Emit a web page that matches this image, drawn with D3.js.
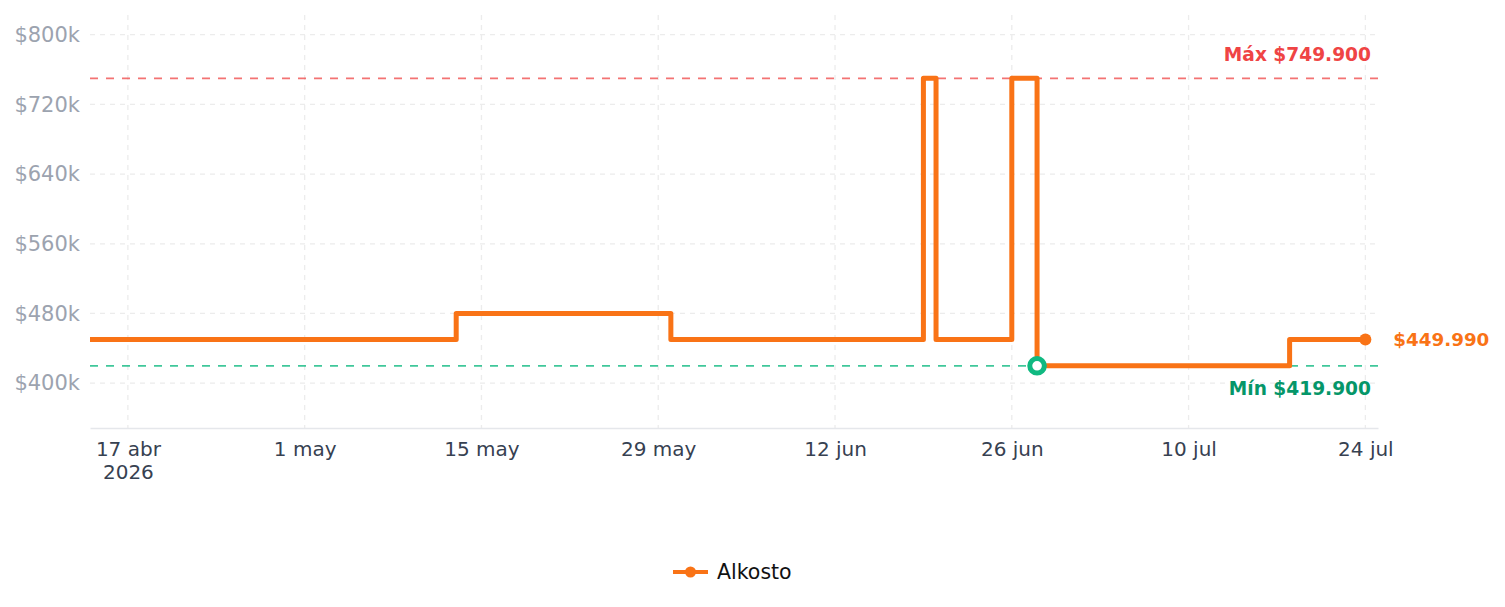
<!DOCTYPE html>
<html>
<head>
<meta charset="utf-8">
<script src="https://cdn.jsdelivr.net/npm/d3@7"></script>
<style>
  body { margin: 0; background: #fff; font-family: "DejaVu Sans", sans-serif; }
</style>
</head>
<body>
<svg id="chart" width="1505" height="607"></svg>
<script>
// price history (step after each change)
const dates  = ["2026-04-14","2026-05-13","2026-05-30","2026-06-19","2026-06-20","2026-06-26","2026-06-28","2026-07-18","2026-07-24"];
const prices = [449990, 479900, 449990, 749900, 449990, 749900, 419900, 449990, 449990];
const storeName = "Alkosto";
const xTickDates = ["2026-04-17","2026-05-01","2026-05-15","2026-05-29","2026-06-12","2026-06-26","2026-07-10","2026-07-24"];
const yTicks = [400000, 480000, 560000, 640000, 720000, 800000];
const months = ["ene","feb","mar","abr","may","jun","jul","ago","sep","oct","nov","dic"];

const parse = d3.timeParse("%Y-%m-%d");
const data = dates.map((d, i) => ({date: parse(d), price: prices[i]}));

const margin = {left: 90, right: 127, top: 15, bottom: 179};
const W = 1505, H = 607;
const svg = d3.select("#chart");

const maxP = d3.max(prices), minP = d3.min(prices);

const x = d3.scaleTime()
  .domain([parse("2026-04-14"), parse("2026-07-25")])
  .range([margin.left, W - margin.right]);
const y = d3.scaleLinear()
  .domain([minP * 0.83, maxP * 1.097])
  .range([H - margin.bottom, margin.top]);

// grid
svg.append("g").selectAll("line").data(yTicks).join("line")
  .attr("x1", margin.left).attr("x2", W - margin.right)
  .attr("y1", d => y(d)).attr("y2", d => y(d))
  .attr("stroke", "#ececec").attr("stroke-width", 1.3).attr("stroke-dasharray", "5,5");
svg.append("g").selectAll("line").data(xTickDates.map(parse)).join("line")
  .attr("x1", d => x(d)).attr("x2", d => x(d))
  .attr("y1", margin.top).attr("y2", H - margin.bottom)
  .attr("stroke", "#ececec").attr("stroke-width", 1.3).attr("stroke-dasharray", "5,5");

// y axis labels
const yAxis = d3.axisLeft(y).tickValues(yTicks).tickSize(0).tickPadding(10)
  .tickFormat(d => "$" + (d / 1000) + "k");
svg.append("g").attr("transform", `translate(${margin.left},0)`).call(yAxis)
  .call(g => g.select(".domain").remove())
  .selectAll("text").attr("font-family", "DejaVu Sans").attr("font-size", 21).attr("fill", "#9ca3af");

// x axis
const xAxis = d3.axisBottom(x).tickValues(xTickDates.map(parse)).tickSize(0).tickPadding(14)
  .tickFormat(d => d.getDate() + " " + months[d.getMonth()]);
const gx = svg.append("g").attr("transform", `translate(0,${H - margin.bottom})`).call(xAxis);
gx.select(".domain").attr("stroke", "#e5e7eb").attr("stroke-width", 1.5);
gx.selectAll("text").attr("font-family", "DejaVu Sans").attr("font-size", 20).attr("fill", "#374151");
gx.selectAll(".tick").filter((d, i) => i === 0).select("text")
  .append("tspan").attr("x", 0).attr("dy", "1.15em").text("2026");

// max / min reference lines
svg.append("line")
  .attr("x1", margin.left).attr("x2", W - margin.right)
  .attr("y1", y(maxP)).attr("y2", y(maxP))
  .attr("stroke", "#ef4444").attr("stroke-opacity", 0.75).attr("stroke-width", 1.8).attr("stroke-dasharray", "8,8");
svg.append("line")
  .attr("x1", margin.left).attr("x2", W - margin.right)
  .attr("y1", y(minP)).attr("y2", y(minP))
  .attr("stroke", "#10b981").attr("stroke-opacity", 0.8).attr("stroke-width", 1.8).attr("stroke-dasharray", "8,8");

const fmt = v => "$" + d3.format(",")(v).replace(/,/g, ".");

svg.append("text")
  .attr("x", W - margin.right - 7).attr("y", y(maxP) - 17)
  .attr("text-anchor", "end").attr("font-size", 18.6).attr("font-weight", "bold").attr("fill", "#ef4444")
  .text("Máx " + fmt(maxP));
svg.append("text")
  .attr("x", W - margin.right - 7).attr("y", y(minP) + 29)
  .attr("text-anchor", "end").attr("font-size", 18.6).attr("font-weight", "bold").attr("fill", "#059669")
  .text("Mín " + fmt(minP));

// price line
const line = d3.line().curve(d3.curveStepAfter).x(d => x(d.date)).y(d => y(d.price));
svg.append("path").datum(data)
  .attr("d", line).attr("fill", "none")
  .attr("stroke", "#f97316").attr("stroke-width", 5).attr("stroke-linejoin", "round");

// min marker
const minPt = data.find(d => d.price === minP);
svg.append("circle")
  .attr("cx", x(minPt.date)).attr("cy", y(minPt.price)).attr("r", 7.3)
  .attr("fill", "#fff").attr("stroke", "#10b981").attr("stroke-width", 5);

// last point
const last = data[data.length - 1];
svg.append("circle")
  .attr("cx", x(last.date)).attr("cy", y(last.price)).attr("r", 6).attr("fill", "#f97316");
svg.append("text")
  .attr("x", x(last.date) + 28).attr("y", y(last.price)).attr("dy", "0.35em")
  .attr("font-size", 18.3).attr("font-weight", "bold").attr("fill", "#f97316")
  .text(fmt(last.price));

// legend
const lg = svg.append("g").attr("transform", "translate(673,572)");
lg.append("line").attr("x1", 0).attr("x2", 35).attr("stroke", "#f97316").attr("stroke-width", 4);
lg.append("circle").attr("cx", 17.5).attr("r", 5.5).attr("fill", "#f97316");
lg.append("text").attr("x", 44).attr("dy", "0.35em").attr("font-size", 20.5).attr("fill", "#111")
  .text(storeName);
</script>
</body>
</html>
